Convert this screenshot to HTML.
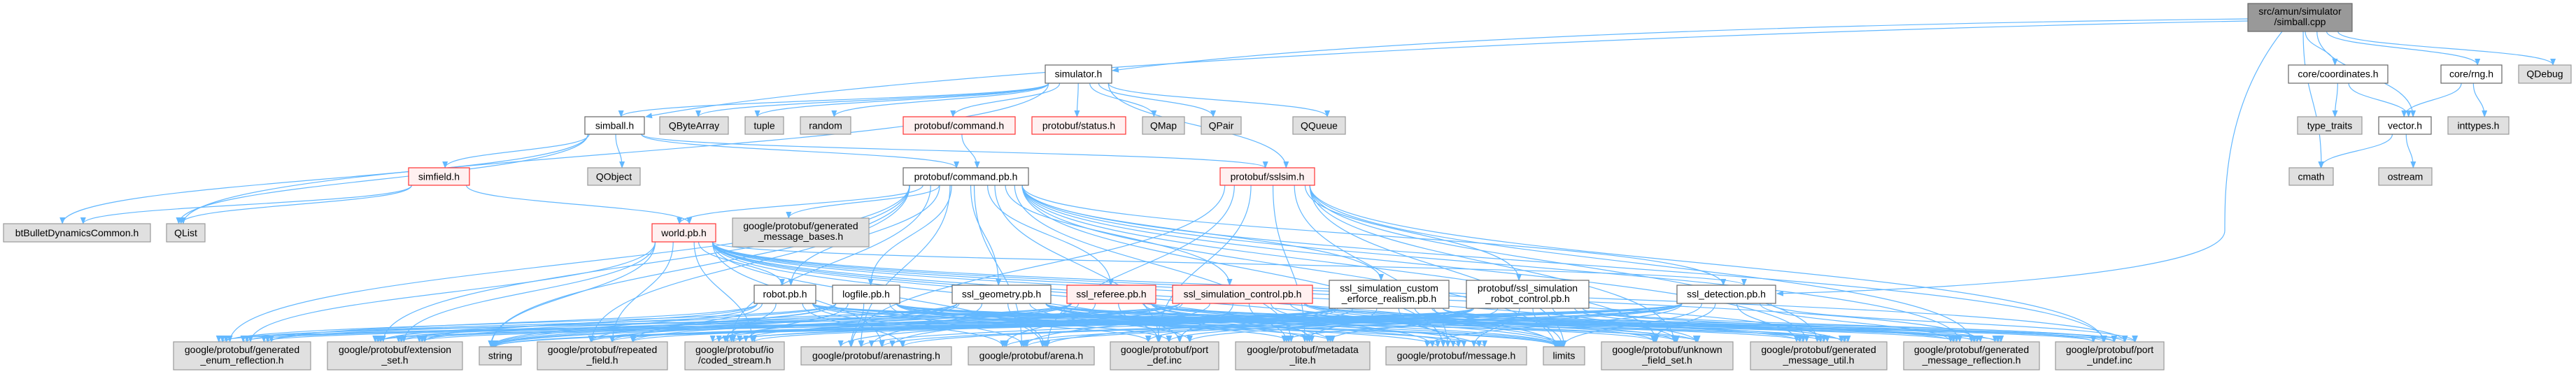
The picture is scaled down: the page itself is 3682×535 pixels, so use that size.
<!DOCTYPE html>
<html><head><meta charset="utf-8">
<style>
html,body{margin:0;padding:0;background:#fff;}
svg{display:block;}
text{font-family:"Liberation Sans",sans-serif;font-size:14px;fill:#000;text-anchor:middle;}
rect.w{fill:#fff;stroke:#666;stroke-width:1.2}
rect.g{fill:#e0e0e0;stroke:#999;stroke-width:1.2}
rect.r{fill:#fff0f0;stroke:#ff3333;stroke-width:1.2}
rect.k{fill:#999;stroke:#666;stroke-width:1.2}
</style></head>
<body>
<svg id="g" width="3682" height="535" viewBox="0 0 3682 535" xmlns="http://www.w3.org/2000/svg">
<defs>
<marker id="ah" markerWidth="10" markerHeight="8" refX="9" refY="4" orient="auto" markerUnits="userSpaceOnUse">
<polygon points="0,0 10,4 0,8" fill="#63b8ff"/>
</marker>
</defs>
<g id="edges" fill="none" stroke="#63b8ff" stroke-width="1.2"></g>
<g id="nodes">
<rect class="k" x="3213" y="5" width="149" height="40"/><text x="3287.5" y="21">src/amun/simulator</text><text x="3287.5" y="36">/simball.cpp</text>
<rect class="w" x="836" y="167" width="85" height="25"/><text x="878.5" y="184.5">simball.h</text>
<rect class="w" x="1494" y="93" width="95" height="26"/><text x="1541.5" y="110.5">simulator.h</text>
<rect class="w" x="3271" y="93" width="142" height="26"/><text x="3342" y="110.5">core/coordinates.h</text>
<rect class="w" x="3489" y="93" width="87" height="26"/><text x="3532.5" y="110.5">core/rng.h</text>
<rect class="g" x="3600" y="93" width="75" height="26"/><text x="3637.5" y="110.5">QDebug</text>
<rect class="g" x="3284" y="167" width="92" height="25"/><text x="3330" y="184.5">type_traits</text>
<rect class="w" x="3400" y="167" width="75" height="25"/><text x="3437.5" y="184.5">vector.h</text>
<rect class="g" x="3499" y="167" width="87" height="25"/><text x="3542.5" y="184.5">inttypes.h</text>
<rect class="g" x="3272" y="240" width="63" height="25"/><text x="3303.5" y="257.5">cmath</text>
<rect class="g" x="3400" y="240" width="76" height="25"/><text x="3438" y="257.5">ostream</text>
<rect class="r" x="584" y="240" width="87" height="25"/><text x="627.5" y="257.5">simfield.h</text>
<rect class="g" x="840" y="240" width="75" height="25"/><text x="877.5" y="257.5">QObject</text>
<rect class="g" x="5" y="320" width="210" height="26"/><text x="110" y="338">btBulletDynamicsCommon.h</text>
<rect class="g" x="238" y="320" width="55" height="26"/><text x="265.5" y="338">QList</text>
<rect class="g" x="943" y="167" width="98" height="25"/><text x="992" y="184.5">QByteArray</text>
<rect class="g" x="1065" y="167" width="55" height="25"/><text x="1092.5" y="184.5">tuple</text>
<rect class="g" x="1144" y="167" width="72" height="25"/><text x="1180" y="184.5">random</text>
<rect class="r" x="1291" y="167" width="160" height="25"/><text x="1371" y="184.5">protobuf/command.h</text>
<rect class="r" x="1475" y="167" width="134" height="25"/><text x="1542" y="184.5">protobuf/status.h</text>
<rect class="g" x="1633" y="167" width="60" height="25"/><text x="1663" y="184.5">QMap</text>
<rect class="g" x="1717" y="167" width="57" height="25"/><text x="1745.5" y="184.5">QPair</text>
<rect class="g" x="1848" y="167" width="75" height="25"/><text x="1885.5" y="184.5">QQueue</text>
<rect class="w" x="1291" y="240" width="179" height="25"/><text x="1380.5" y="257.5">protobuf/command.pb.h</text>
<rect class="r" x="1744" y="240" width="135" height="25"/><text x="1811.5" y="257.5">protobuf/sslsim.h</text>
<rect class="r" x="932" y="320" width="91" height="26"/><text x="977.5" y="338">world.pb.h</text>
<rect class="g" x="1047" y="312" width="195" height="41"/><text x="1144.5" y="328">google/protobuf/generated</text><text x="1144.5" y="343">_message_bases.h</text>
<rect class="w" x="1078" y="408" width="88" height="26"/><text x="1122" y="425.5">robot.pb.h</text>
<rect class="w" x="1190" y="408" width="96" height="26"/><text x="1238" y="425.5">logfile.pb.h</text>
<rect class="w" x="1361" y="408" width="141" height="26"/><text x="1431.5" y="425.5">ssl_geometry.pb.h</text>
<rect class="r" x="1525" y="408" width="127" height="26"/><text x="1588.5" y="425.5">ssl_referee.pb.h</text>
<rect class="r" x="1676" y="408" width="200" height="26"/><text x="1776" y="425.5">ssl_simulation_control.pb.h</text>
<rect class="w" x="1900" y="401" width="171" height="40"/><text x="1985.5" y="417">ssl_simulation_custom</text><text x="1985.5" y="432">_erforce_realism.pb.h</text>
<rect class="w" x="2096" y="401" width="175" height="40"/><text x="2183.5" y="417">protobuf/ssl_simulation</text><text x="2183.5" y="432">_robot_control.pb.h</text>
<rect class="w" x="2397" y="408" width="141" height="26"/><text x="2467.5" y="425.5">ssl_detection.pb.h</text>
<rect class="g" x="248" y="489" width="196" height="40"/><text x="346" y="505">google/protobuf/generated</text><text x="346" y="520">_enum_reflection.h</text>
<rect class="g" x="468" y="489" width="193" height="40"/><text x="564.5" y="505">google/protobuf/extension</text><text x="564.5" y="520">_set.h</text>
<rect class="g" x="685" y="496" width="60" height="26"/><text x="715" y="513.5">string</text>
<rect class="g" x="768" y="489" width="186" height="40"/><text x="861" y="505">google/protobuf/repeated</text><text x="861" y="520">_field.h</text>
<rect class="g" x="979" y="489" width="142" height="40"/><text x="1050" y="505">google/protobuf/io</text><text x="1050" y="520">/coded_stream.h</text>
<rect class="g" x="1145" y="496" width="215" height="26"/><text x="1252.5" y="513.5">google/protobuf/arenastring.h</text>
<rect class="g" x="1384" y="496" width="180" height="26"/><text x="1474" y="513.5">google/protobuf/arena.h</text>
<rect class="g" x="1587" y="489" width="155" height="40"/><text x="1664.5" y="505">google/protobuf/port</text><text x="1664.5" y="520">_def.inc</text>
<rect class="g" x="1766" y="489" width="192" height="40"/><text x="1862" y="505">google/protobuf/metadata</text><text x="1862" y="520">_lite.h</text>
<rect class="g" x="1981" y="496" width="201" height="26"/><text x="2081.5" y="513.5">google/protobuf/message.h</text>
<rect class="g" x="2206" y="496" width="59" height="26"/><text x="2235.5" y="513.5">limits</text>
<rect class="g" x="2289" y="489" width="188" height="40"/><text x="2383" y="505">google/protobuf/unknown</text><text x="2383" y="520">_field_set.h</text>
<rect class="g" x="2502" y="489" width="195" height="40"/><text x="2599.5" y="505">google/protobuf/generated</text><text x="2599.5" y="520">_message_util.h</text>
<rect class="g" x="2721" y="489" width="194" height="40"/><text x="2818" y="505">google/protobuf/generated</text><text x="2818" y="520">_message_reflection.h</text>
<rect class="g" x="2938" y="489" width="155" height="40"/><text x="3015.5" y="505">google/protobuf/port</text><text x="3015.5" y="520">_undef.inc</text>
</g>
</svg>
<script>
var N={
root:[3213,3362,5,45],simball:[836,921,167,192],simulator:[1494,1589,93,119],coord:[3271,3413,93,119],rng:[3489,3576,93,119],qdebug:[3600,3675,93,119],
typetraits:[3284,3376,167,192],vector:[3400,3475,167,192],inttypes:[3499,3586,167,192],cmath:[3272,3335,240,265],ostream:[3400,3476,240,265],
simfield:[584,671,240,265],qobject:[840,915,240,265],bt:[5,215,320,346],qlist:[238,293,320,346],qbytearray:[943,1041,167,192],tuple:[1065,1120,167,192],
random:[1144,1216,167,192],cmdh:[1291,1451,167,192],statush:[1475,1609,167,192],qmap:[1633,1693,167,192],qpair:[1717,1774,167,192],qqueue:[1848,1923,167,192],
cmdpb:[1291,1470,240,265],sslsim:[1744,1879,240,265],world:[932,1023,320,346],gmb:[1047,1242,312,353],robot:[1078,1166,408,434],logfile:[1190,1286,408,434],
geom:[1361,1502,408,434],referee:[1525,1652,408,434],simctrl:[1676,1876,408,434],custom:[1900,2071,401,441],robotctrl:[2096,2271,401,441],detection:[2397,2538,408,434],
enumr:[248,444,489,529],extset:[468,661,489,529],string:[685,745,496,522],repeated:[768,954,489,529],coded:[979,1121,489,529],arenastr:[1145,1360,496,522],
arena:[1384,1564,496,522],portdef:[1587,1742,489,529],meta:[1766,1958,489,529],message:[1981,2182,496,522],limits:[2206,2265,496,522],unknown:[2289,2477,489,529],
gutil:[2502,2697,489,529],grefl:[2721,2915,489,529],portundef:[2938,3093,489,529]
};
var leaves=['enumr','extset','string','repeated','coded','arenastr','arena','portdef','meta','message','limits','unknown','gutil','grefl','portundef'];
var E=[
['root','coord'],['root','rng'],['root','qdebug'],['root','vector'],['root','cmath'],
['simball','simfield'],['simball','bt'],['simball','qobject'],['simball','qlist'],['simball','cmdpb'],['simball','sslsim'],
['simfield','bt'],['simfield','qlist'],['simfield','world'],
['simulator','simball'],['simulator','qbytearray'],['simulator','tuple'],['simulator','random'],['simulator','cmdh'],['simulator','statush'],['simulator','qmap'],['simulator','qpair'],['simulator','qqueue'],['simulator','sslsim'],['simulator','qlist'],
['cmdh','cmdpb'],['sslsim','robotctrl'],
['cmdpb','world'],['cmdpb','gmb'],['cmdpb','robot'],['cmdpb','logfile'],['cmdpb','geom'],['cmdpb','referee'],['cmdpb','simctrl'],['cmdpb','custom'],['cmdpb','detection'],
['world','robot'],['world','detection'],
['coord','typetraits'],['coord','vector'],['rng','vector'],['rng','inttypes'],['vector','cmath'],['vector','ostream']
];
['cmdpb','world','robot','logfile','geom','referee','simctrl','custom','robotctrl','detection'].forEach(function(s){leaves.forEach(function(t){E.push([s,t]);});});
['message','limits','unknown','gutil','grefl','portundef','portdef','meta','arena','arenastr'].forEach(function(t){E.push(['sslsim',t]);});
var ns='http://www.w3.org/2000/svg';
var eg=document.getElementById('edges');
function add(d){var p=document.createElementNS(ns,'path');p.setAttribute('d',d);p.setAttribute('marker-end','url(#ah)');eg.appendChild(p);}
/* special long edges from root */
add('M3213,27 C2500,35 1900,60 1590,101');
add('M3213,30 C2400,45 1300,95 923,167');
add('M3262,45 C3180,150 3180,270 3180,330 C3180,380 2900,410 2540,420');
var cnt={};
E.forEach(function(e){
 var s=N[e[0]],t=N[e[1]];
 var scx=(s[0]+s[1])/2,tcx=(t[0]+t[1])/2;
 var sw=s[1]-s[0],tw=t[1]-t[0];
 var k=e[1];cnt[k]=(cnt[k]||0)+1;
 var off=((cnt[k]*37)%Math.max(8,tw*0.6))-tw*0.3;
 var tx=tcx+off*0.8,ty=t[2];
 var sx=scx+Math.max(-sw*0.45,Math.min(sw*0.45,(tx-scx)*0.15)),sy=s[3];
 var d;
 if(t[2]<=s[2]+5){
   var leftw=tcx<scx;
   sx=leftw?s[0]:s[1];sy=(s[2]+s[3])/2;
   tx=leftw?t[1]:t[0];ty=(t[2]+t[3])/2;
   d='M'+sx+','+sy+' L'+tx+','+ty;
 } else {
   var my=(sy+ty)/2;
   d='M'+sx+','+sy+' C'+sx+','+my+' '+tx+','+my+' '+tx+','+ty;
 }
 add(d);
});
</script>
</body></html>
